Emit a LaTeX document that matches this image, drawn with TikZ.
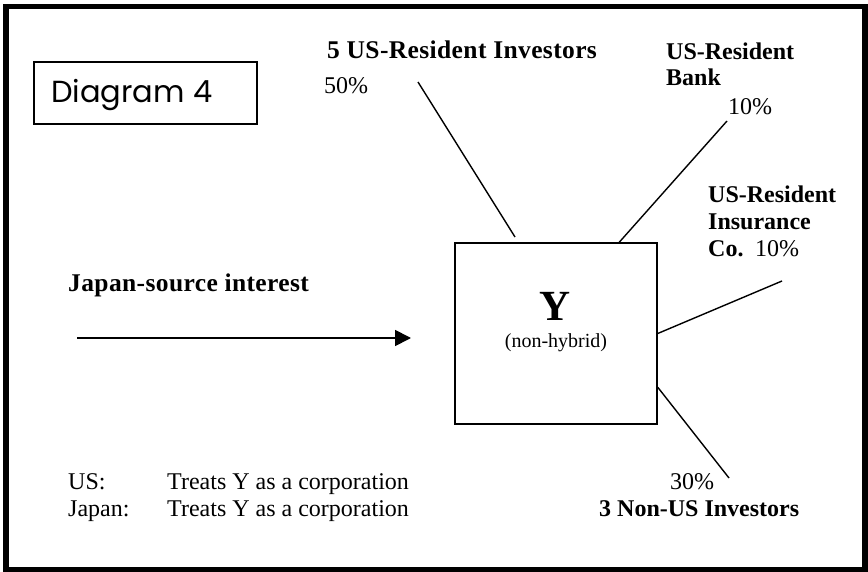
\documentclass[tikz,border=0pt]{standalone}
\usepackage{fontspec}
\setmainfont{Liberation Serif}
\newfontfamily\titlefont{Poppins}
\newfontfamily\widebold[LetterSpace=1.5]{Liberation Serif Bold}
\usetikzlibrary{arrows.meta,calc}
\begin{document}
\begin{tikzpicture}[x=1pt,y=-1pt,
  lbl/.style={inner sep=0pt,anchor=base west,font=\fontsize{24}{27}\selectfont},
  blbl/.style={lbl,font=\fontsize{24}{27}\selectfont\bfseries},
  wlbl/.style={lbl,font=\widebold\fontsize{25.5}{28}\selectfont},
  link/.style={line width=1.4pt},
  entity/.style={draw,line width=1.5pt,minimum width=202pt,minimum height=181pt,inner sep=0pt}]
\useasboundingbox (0,0) rectangle (868,572);
% outer frame
\draw[line width=5.5pt] (6,6.3) rectangle (865,569.5);
% title box
\draw[line width=1.5pt] (34,62) rectangle (257,124);
\node[inner sep=0pt,anchor=base west,font=\titlefont\fontsize{30.5}{34}\selectfont] (title) at (51,103) {Diagram 4};

% central entity
\node[entity] (Y) at (556,333.5) {};
\node[inner sep=0pt,anchor=base,font=\fontsize{43}{46}\selectfont\bfseries] (ylab) at (555,320) {Y};
\node[inner sep=0pt,anchor=base,font=\fontsize{20}{22}\selectfont] (ysub) at (556,348) {(non-hybrid)};

% owners
\node[wlbl] (inv5) at (327,59) {5 US-Resident Investors};
\node[lbl] (p50) at (324,94) {50\%};
\node[blbl] (bank1) at (666,60) {US-Resident};
\node[blbl] (bank2) at (666,86) {Bank};
\node[lbl] (p10a) at (728,115) {10\%};
\node[blbl] (ins1) at (708,203) {US-Resident};
\node[blbl] (ins2) at (708,230) {Insurance};
\node[blbl] (ins3) at (708,257) {Co.};
\node[lbl] (p10b) at (755,257) {10\%};
\node[lbl] (p30) at (670,489) {30\%};
\node[blbl] (nonus) at (599,516) {3 Non-US Investors};

\coordinate (invEnd) at (418,82);
\coordinate (invBox) at (515,237);
\coordinate (bankEnd) at (727,121);
\coordinate (insEnd) at (782,281);
\coordinate (nonEnd) at (729,478);

\draw[link] (invEnd) -- (invBox);
\draw[link] (bankEnd) -- ($(Y.north west)+(165,0)$);
\draw[link] (insEnd) -- (Y.east);
\draw[link] ($(Y.north east)+(0,145)$) -- (nonEnd);

% income flow
\node[wlbl] (src) at (68,291) {Japan-source interest};
\coordinate (flowStart) at (77,338);
\coordinate (flowEnd) at (411,338);
\draw[line width=1.8pt,-{Triangle[length=16pt,width=16pt]}] (flowStart) -- (flowEnd);

% tax treatment
\node[lbl] (us) at (68,489) {US:};
\node[lbl] (ustr) at (167,489) {Treats Y as a corporation};
\node[lbl] (jp) at (68,516) {Japan:};
\node[lbl] (jptr) at (167,516) {Treats Y as a corporation};
\end{tikzpicture}
\end{document}
